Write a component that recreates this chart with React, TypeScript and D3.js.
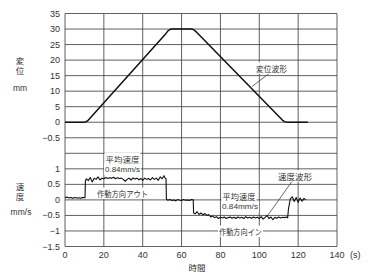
import * as d3 from "d3";

// time axis ticks
const xTicks = [0, 20, 40, 60, 80, 100, 120];
// left labels, one per horizontal grid line (top to bottom)
const rowLabels = ["35", "30", "25", "20", "15", "10", "5", "0", "−0.5", "", "1", "0.5", "0", "−0.5", "−1", "−1.5"];

// displacement waveform (s, mm)
const dispT = [0, 10, 11, 12, 13, 14, 52, 53, 54, 55, 65, 66, 67, 68, 111, 112, 113, 114, 115, 125];
const dispV = [0, 0, 0.2, 0.7, 1.4, 2.1, 28.6, 29.4, 29.85, 30, 30, 29.85, 29.4, 28.8, 1.3, 0.6, 0.2, 0.05, 0, 0];

// velocity waveform (s, mm/s)
const velT = [
  0, 1, 2, 3, 4, 5, 6, 7, 8, 9, 10, 10.3, 10.5,
  11, 12, 13, 14, 15, 16, 17, 18, 19, 20, 21, 22, 23, 24, 25, 26, 27, 28, 29, 30,
  31, 32, 33, 34, 35, 36, 37, 38, 39, 40, 41, 42, 43, 44, 45, 46, 47, 48, 49, 50, 51, 51.5, 52, 52.2,
  53, 54, 55, 56, 57, 58, 59, 60, 61, 62, 63, 64, 65, 66, 66.2,
  67, 68, 69, 70, 71, 72, 73, 74, 75, 76, 77, 78, 79, 80, 81, 82, 83, 84, 85, 86, 87, 88, 89, 90,
  91, 92, 93, 94, 95, 96, 97, 98, 99, 100, 101, 102, 103, 104, 105, 106, 107, 108, 109, 110,
  111, 112, 113, 114, 114.6, 115, 115.8, 116, 117, 118, 119, 120, 121, 122, 123, 124,
];
const velV = [
  0.07, 0.09, 0.06, 0.08, 0.05, 0.08, 0.06, 0.07, 0.05, 0.08, 0.07, 0.07, 0.62,
  0.68, 0.62, 0.72, 0.58, 0.7, 0.66, 0.74, 0.64, 0.7, 0.68, 0.72, 0.69, 0.71, 0.7, 0.73, 0.68, 0.71, 0.69, 0.7, 0.66,
  0.6, 0.66, 0.7, 0.64, 0.71, 0.67, 0.7, 0.65, 0.69, 0.63, 0.7, 0.66, 0.69, 0.64, 0.72, 0.66, 0.7, 0.63, 0.74, 0.68, 0.78, 0.7, 0.68, 0.02,
  -0.01, 0.01, -0.02, 0.0, -0.03, 0.01, -0.01, -0.02, 0.01, -0.01, 0.0, -0.02, 0.01, 0.0, -0.42,
  -0.45, -0.38, -0.47, -0.42, -0.48, -0.44, -0.5, -0.47, -0.55, -0.52, -0.57, -0.54, -0.6, -0.56, -0.58, -0.55, -0.6, -0.57, -0.55, -0.59, -0.56, -0.6, -0.55, -0.58,
  -0.56, -0.6, -0.54, -0.58, -0.56, -0.59, -0.55, -0.58, -0.56, -0.6, -0.54, -0.62, -0.56, -0.5, -0.6, -0.55, -0.64, -0.56, -0.59, -0.55,
  -0.58, -0.56, -0.57, -0.55, -0.58, -0.3, -0.02, 0.04, 0.1, -0.05, 0.08, -0.08, 0.06, -0.04, 0.05, 0.0,
];

const x = d3.scaleLinear().domain([0, 140]).range([65, 337]);
const row = d3.scaleLinear().domain([0, 15]).range([13.5, 246.5]);
const yDisp = d3.scaleLinear().domain([0, 35]).range([row(7), row(0)]);
const yVel = d3.scaleLinear().domain([-1.5, 1]).range([row(15), row(10)]);

const latin = "'Liberation Sans', Arial, sans-serif";
const cjk = "'Noto Sans CJK JP', sans-serif";
const ink = "#333";

function Note({ cx, cy, text, size = 8.5, w, font = cjk }: { cx: number; cy: number; text: string; size?: number; w: number; font?: string }) {
  return (
    <g>
      <rect x={cx - w / 2 - 1} y={cy - size / 2 - 1.5} width={w + 2} height={size + 3} fill="#fff" />
      <text x={cx} y={cy} textAnchor="middle" dominantBaseline="central" fontSize={size} fontFamily={font} fill={ink}
        textLength={w} lengthAdjust="spacingAndGlyphs">
        {text}
      </text>
    </g>
  );
}

// stacked (vertical) axis title
function VTitle({ cx, top, text }: { cx: number; top: number; text: string }) {
  return (
    <text x={cx} y={top} fontSize={8.5} fontFamily={cjk} fill={ink}
      style={{ writingMode: "vertical-rl", letterSpacing: "1.5px" }}>
      {text}
    </text>
  );
}

export default function App() {
  const dispLine = d3.line<number>().x((d, i) => x(dispT[i])).y((d) => yDisp(d));
  const velLine = d3.line<number>().x((d, i) => x(velT[i])).y((d) => yVel(d));
  const gridX = d3.range(0, 141, 20);

  return (
    <svg width={368} height={280} style={{ position: "absolute", left: 0, top: 0, background: "#fff" }}>
      {/* grid */}
      {rowLabels.map((_, i) => (
        <line key={"h" + i} x1={x(0)} x2={x(140)} y1={row(i)} y2={row(i)} stroke="#444" strokeWidth={0.85} />
      ))}
      {gridX.map((t) => (
        <line key={"v" + t} x1={x(t)} x2={x(t)} y1={row(0)} y2={row(15)} stroke="#444" strokeWidth={0.85} />
      ))}

      {/* left tick labels */}
      {rowLabels.map((s, i) => (
        <text key={"l" + i} x={60} y={row(i)} textAnchor="end" dominantBaseline="central" fontSize={9} fontFamily={latin} fill={ink}>
          {s}
        </text>
      ))}
      {/* bottom tick labels */}
      {xTicks.map((t) => (
        <text key={"x" + t} x={x(t)} y={255} textAnchor="middle" dominantBaseline="central" fontSize={9} fontFamily={latin} fill={ink}>
          {t}
        </text>
      ))}
      <text x={x(140)} y={255} textAnchor="middle" dominantBaseline="central" fontSize={9} fontFamily={latin} fill={ink}>140</text>
      <text x={350} y={255} dominantBaseline="central" fontSize={9} fontFamily={latin} fill={ink}>(s)</text>
      <text x={197} y={267} textAnchor="middle" dominantBaseline="central" fontSize={8.5} fontFamily={cjk} fill={ink}>時間</text>

      {/* axis titles */}
      <VTitle cx={20} top={57} text="変位" />
      <text x={20} y={87.5} textAnchor="middle" dominantBaseline="central" fontSize={8.5} fontFamily={latin} fill={ink}>mm</text>
      <VTitle cx={20} top={182.5} text="速度" />
      <text x={21} y={211.5} textAnchor="middle" dominantBaseline="central" fontSize={8.5} fontFamily={latin} fill={ink}>mm/s</text>

      {/* annotations */}
      <Note cx={122.5} cy={158.5} text="平均速度" w={34} />
      <Note cx={122.5} cy={169} text="0.84mm/s" w={35} size={8} font={latin} />
      <Note cx={122.5} cy={193.3} text="作動方向アウト" w={51} />
      <Note cx={239} cy={196} text="平均速度" w={33} />
      <Note cx={240} cy={206.5} text="0.84mm/s" w={36} size={8} font={latin} />
      <Note cx={240.5} cy={231.3} text="作動方向イン" w={43} />

      <line x1={271} y1={72} x2={252} y2={86.5} stroke="#444" strokeWidth={0.8} />
      <Note cx={271.5} cy={68} text="変位波形" w={31} />
      <line x1={293} y1={180} x2={268} y2={215} stroke="#444" strokeWidth={0.8} />
      <Note cx={295} cy={176} text="速度波形" w={34} />

      {/* waveforms */}
      <path d={dispLine(dispV) ?? ""} fill="none" stroke="#111" strokeWidth={1.5} strokeLinejoin="round" />
      <path d={velLine(velV) ?? ""} fill="none" stroke="#111" strokeWidth={1.1} strokeLinejoin="round" />
    </svg>
  );
}
